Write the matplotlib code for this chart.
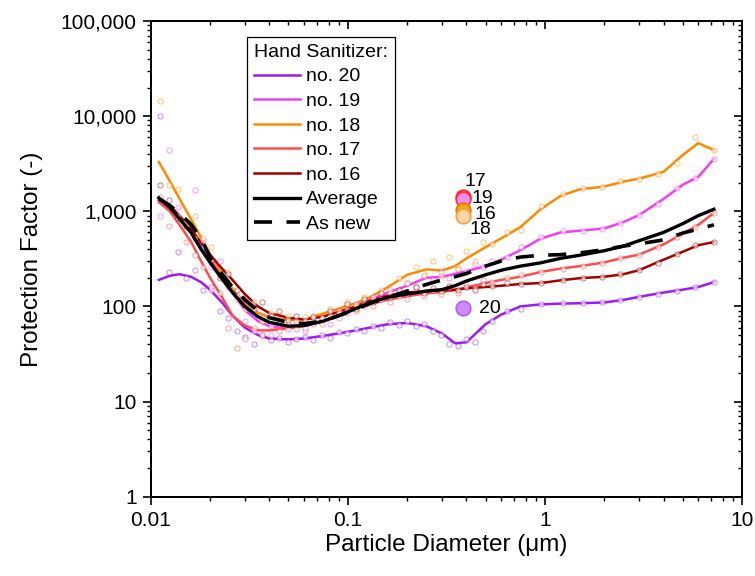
import matplotlib
matplotlib.use('Agg')
import matplotlib.pyplot as plt
from matplotlib.ticker import LogLocator, FuncFormatter, NullFormatter

plt.rcParams['font.family'] = ['Liberation Sans', 'DejaVu Sans']

# ---------------- data ----------------
# fitted-curve grid (particle diameter, um)
d_fit = [0.011, 0.0125, 0.014, 0.016, 0.018, 0.02, 0.023, 0.026, 0.03, 0.035, 0.04, 0.05,
         0.06, 0.075, 0.09, 0.11, 0.13, 0.16, 0.2, 0.25, 0.3, 0.35, 0.4, 0.5,
         0.6, 0.75, 0.95, 1.2, 1.5, 2.0, 2.5, 3.0, 4.0, 5.0, 6.0, 7.2]

fit_20 = [190, 210, 218, 205, 180, 150, 110, 80, 60, 50, 46, 45,
          46, 49, 52, 56, 60, 65, 67, 62, 52, 41, 42, 65,
          82, 100, 105, 107, 108, 110, 117, 126, 140, 150, 160, 180]
fit_19 = [1300, 1050, 870, 620, 440, 320, 210, 140, 92, 70, 62, 60,
          62, 70, 82, 100, 118, 140, 165, 200, 205, 220, 235, 265,
          310, 390, 515, 600, 625, 660, 770, 910, 1350, 1900, 2300, 3550]
fit_18 = [3300, 2070, 1350, 830, 530, 355, 220, 153, 108, 86, 77, 72,
          73, 84, 95, 108, 125, 160, 215, 245, 238, 265, 320, 420,
          520, 680, 1050, 1450, 1700, 1820, 2050, 2200, 2600, 3900, 5200, 4400]
fit_17 = [1250, 1000, 720, 480, 300, 200, 125, 80, 63, 56, 56, 59,
          62, 70, 80, 95, 105, 118, 128, 137, 142, 148, 158, 176,
          190, 205, 230, 250, 265, 290, 325, 350, 450, 580, 720, 960]
fit_16 = [1400, 1150, 900, 650, 470, 350, 250, 190, 135, 100, 85, 76,
          73, 78, 88, 100, 115, 130, 140, 145, 148, 150, 155, 160,
          165, 172, 176, 188, 198, 205, 218, 240, 310, 375, 440, 475]
fit_avg = [1380, 1100, 830, 600, 400, 290, 195, 140, 100, 78, 68, 62,
           63, 70, 80, 95, 110, 125, 135, 145, 150, 165, 185, 215,
           240, 265, 287, 320, 345, 385, 430, 490, 600, 740, 900, 1050]
fit_new = [1350, 1150, 950, 730, 520, 330, 220, 160, 118, 90, 76, 68,
           66, 70, 80, 93, 108, 125, 145, 170, 190, 205, 222, 265,
           300, 330, 345, 350, 365, 395, 430, 455, 500, 590, 650, 720]

# measured points (shared size channels)
d_meas = [0.0112, 0.0124, 0.0137, 0.0151, 0.0167, 0.0184, 0.0203, 0.0224, 0.0248, 0.0274, 0.0302, 0.0334, 0.0369,
          0.0407, 0.045, 0.0497, 0.0549, 0.0606, 0.0669, 0.0739, 0.0816, 0.0902, 0.0996, 0.11, 0.121, 0.134,
          0.148, 0.164, 0.181, 0.2, 0.221, 0.244, 0.269, 0.297, 0.328, 0.363, 0.4, 0.442, 0.488,
          0.54, 0.64, 0.76, 0.95, 1.24, 1.56, 1.95, 2.4, 3.0, 3.75, 4.7, 5.8, 7.2]

meas_20 = [10000, 230, 370, 200, 240, 150, 160, 90, 75, 55, 48, 40, 50,
           44, 47, 42, 45, 48, 44, 50, 47, 54, 52, 58, 55, 62,
           60, 68, 64, 70, 62, 65, 55, 50, 40, 38, 45, 42, 55,
           70, 90, 95, 107, 108, 108, 110, 117, 126, 135, 145, 160, 180]
meas_19 = [900, 4400, 1100, 700, 1660, 500, 260, 300, 160, 130, 70, 55, 75,
           50, 65, 58, 70, 55, 68, 72, 65, 90, 85, 105, 100, 125,
           120, 150, 140, 175, 160, 210, 190, 230, 200, 250, 230, 280, 260,
           300, 330, 420, 540, 620, 620, 650, 750, 910, 1190, 1760, 2240, 3550]
meas_18 = [14500, 1900, 1700, 800, 900, 520, 420, 210, 230, 120, 95, 110, 70,
           85, 68, 80, 66, 78, 80, 76, 95, 88, 110, 100, 125, 118,
           150, 140, 200, 175, 260, 215, 300, 210, 330, 250, 380, 300, 470,
           450, 600, 640, 1150, 1520, 1750, 1800, 2090, 2190, 2460, 3220, 6000, 4400]
meas_17 = [1400, 700, 900, 480, 350, 260, 150, 140, 60, 37, 45, 60, 50,
           62, 55, 65, 58, 60, 66, 65, 80, 75, 92, 90, 105, 100,
           120, 110, 130, 120, 145, 130, 150, 135, 160, 140, 170, 155, 190,
           180, 200, 215, 230, 250, 265, 285, 324, 350, 425, 540, 690, 960]
meas_16 = [1900, 1300, 850, 700, 520, 420, 310, 200, 220, 150, 120, 95, 110,
           80, 90, 72, 80, 70, 78, 75, 90, 85, 105, 95, 120, 110,
           140, 125, 150, 135, 160, 140, 155, 145, 165, 150, 160, 150, 170,
           165, 175, 170, 176, 190, 200, 204, 219, 240, 285, 355, 440, 475]

# single comparison points
single_d = 0.385
single_labels = ['17', '19', '16', '18', '20']
single_pf = [1400, 1350, 1030, 890, 96]

series_labels = ['no. 20', 'no. 19', 'no. 18', 'no. 17', 'no. 16']
x_ticks = [0.01, 0.1, 1, 10]
x_tick_labels = ['0.01', '0.1', '1', '10']
y_ticks = [1, 10, 100, 1000, 10000, 100000]

# ---------------- styling ----------------
colors = ['#9B1BF5', '#F23FF2', '#FF8A00', '#FF4C4C', '#A30000']
fits = [fit_20, fit_19, fit_18, fit_17, fit_16]
meas = [meas_20, meas_19, meas_18, meas_17, meas_16]

W, H = 755, 576
L, R, T, B = 150.7, 742, 21, 496.7
fig = plt.figure(figsize=(W / 100, H / 100), dpi=100)
ax = fig.add_axes([L / W, 1 - B / H, (R - L) / W, (B - T) / H])
ax.set_xscale('log')
ax.set_yscale('log')
ax.set_xlim(0.01, 10)
ax.set_ylim(1, 100000)

handles = []
for c, f, m, lab in zip(colors, fits, meas, series_labels):
    h, = ax.plot(d_fit, f, color=c, lw=1.8, zorder=3, label=lab)
    handles.append(h)
    ax.scatter(d_meas, m, s=14, facecolors='white', edgecolors=c, linewidths=0.6,
               alpha=0.6, zorder=4)

h_avg, = ax.plot(d_fit, fit_avg, color='black', lw=2.4, zorder=6, label='Average')
h_new, = ax.plot(d_fit, fit_new, color='black', lw=2.6, dashes=(5, 4), zorder=6, label='As new')
handles += [h_avg, h_new]

# single points
pt_face = ['#FF7A7A', '#F08CF5', '#FFA21A', '#FFD6A8', '#CC8CFF']
pt_edge = ['#FF2020', '#FF3030', '#E07800', '#FFA040', '#B060F0']
offsets = [(12, 16), (19, 0), (22, -4), (17, -13), (27, 0)]
for i in range(len(single_pf)):
    ax.scatter([single_d], [single_pf[i]], s=110, facecolors=pt_face[i], edgecolors=pt_edge[i],
               linewidths=1.2, zorder=8 + i)
    ax.annotate(single_labels[i], (single_d, single_pf[i]), xytext=offsets[i],
                textcoords='offset pixels', ha='center', va='center', fontsize=14, zorder=15)

# axes formatting
ax.xaxis.set_minor_locator(LogLocator(base=10, subs=range(2, 10), numticks=20))
ax.yaxis.set_minor_locator(LogLocator(base=10, subs=range(2, 10), numticks=20))
ax.set_xticks(x_ticks)
ax.set_xticklabels(x_tick_labels)
ax.set_yticks(y_ticks)
ax.yaxis.set_major_formatter(FuncFormatter(lambda v, p: f"{int(round(v)):,}"))
ax.yaxis.set_minor_formatter(NullFormatter())
ax.xaxis.set_minor_formatter(NullFormatter())
ax.tick_params(which='major', direction='out', length=6, width=1.2, labelsize=15, pad=4)
ax.tick_params(which='minor', direction='out', length=3.2, width=1.0)
for s in ax.spines.values():
    s.set_linewidth(1.2)

# inward ticks on top / right
axr = ax.twinx()
axr.set_yscale('log'); axr.set_ylim(1, 100000)
axr.yaxis.set_minor_locator(LogLocator(base=10, subs=range(2, 10), numticks=20))
axr.tick_params(which='major', direction='in', length=6, width=1.2, labelright=False)
axr.tick_params(which='minor', direction='in', length=3.2, width=1.0)
axr.yaxis.set_minor_formatter(NullFormatter())
axt = ax.twiny()
axt.set_xscale('log'); axt.set_xlim(0.01, 10)
axt.xaxis.set_minor_locator(LogLocator(base=10, subs=range(2, 10), numticks=20))
axt.tick_params(which='major', direction='in', length=6, width=1.2, labeltop=False)
axt.tick_params(which='minor', direction='in', length=3.2, width=1.0)
axt.xaxis.set_minor_formatter(NullFormatter())
for a in (axr, axt):
    for s in a.spines.values():
        s.set_linewidth(1.2)

ax.set_xlabel('Particle Diameter (μm)', fontsize=17.5, labelpad=3)
ax.set_ylabel('Protection Factor (-)', fontsize=17.5, labelpad=13)

leg = axt.legend(handles, [h.get_label() for h in handles], title='Hand Sanitizer:',
                 loc='upper left', bbox_to_anchor=((247 - L) / (R - L), (B - 37) / (B - T)),
                 borderaxespad=0, fontsize=14, title_fontsize=14, frameon=True, fancybox=False,
                 edgecolor='black', framealpha=1, labelspacing=0.36, handlelength=2.4,
                 handletextpad=0.3, borderpad=0.35)
leg.get_frame().set_linewidth(0.9)
leg._legend_box.align = 'left'
leg.set_zorder(20)

fig.savefig('out.png', dpi=100)
